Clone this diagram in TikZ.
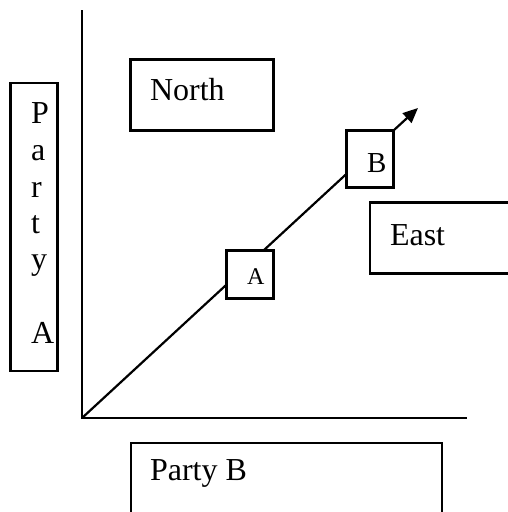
\documentclass[tikz,border=0pt]{standalone}
\usepackage{fontspec}
\setmainfont{Liberation Serif}
\usetikzlibrary{arrows.meta,backgrounds}
\begin{document}
\begin{tikzpicture}[x=1pt,y=-1pt,
  box/.style={draw=black,line width=2.2pt,fill=white,inner sep=0pt,outer sep=0pt},
  lbl/.style={inner sep=0pt,outer sep=0pt,anchor=base west,font=\fontsize{32}{37}\selectfont},
  axis/.style={draw=black,line width=2.2pt},
  diag/.style={draw=black,line width=2.2pt}]
\useasboundingbox (0,0) rectangle (508,512);
\clip (0,0) rectangle (508,512);
% boxes
\node[box,minimum width=47pt,minimum height=288pt] (partyA) at (34,227) {};
\node[box,minimum width=143pt,minimum height=71pt] (north) at (202,95) {};
\node[box,minimum width=47pt,minimum height=57pt] (bbox) at (370,159) {};
\node[box,minimum width=47pt,minimum height=48pt] (abox) at (250,274.5) {};
\node[box,minimum width=160pt,minimum height=71pt] (east) at (450,238) {};
\node[box,minimum width=311pt,minimum height=90pt] (partyB) at (286.5,488) {};
% texts
\node[lbl] (tP) at (31,123) {P};
\node[lbl] (ta) at (31,160) {a};
\node[lbl] (tr) at (31,197) {r};
\node[lbl] (tt) at (31,233) {t};
\node[lbl] (ty) at (31,269) {y};
\node[lbl] (tA) at (31,343) {A};
\node[lbl] (northtxt) at (150,100) {North};
\node[lbl] (easttxt) at (390,245) {East};
\node[lbl] (partyBtxt) at (150,480) {Party B};
\node[lbl,font=\fontsize{24}{28}\selectfont] (atxt) at (247,284) {A};
\node[lbl,font=\fontsize{29}{34}\selectfont] (btxt) at (367,172) {B};
% axes and diagonal
\coordinate (origin) at (82,418);
\coordinate (ytop) at (82,11);
\coordinate (xend) at (466,418);
\coordinate (tip) at (418,108);
\begin{pgfonlayer}{background}
\draw[axis,line cap=rect] (ytop) -- (origin) -- (xend);
\draw[diag] (origin) -- (bbox.north east);
\end{pgfonlayer}
\draw[diag,-{Triangle[length=15pt,width=13pt]}] (bbox.north east) -- (tip);
\end{tikzpicture}
\end{document}
